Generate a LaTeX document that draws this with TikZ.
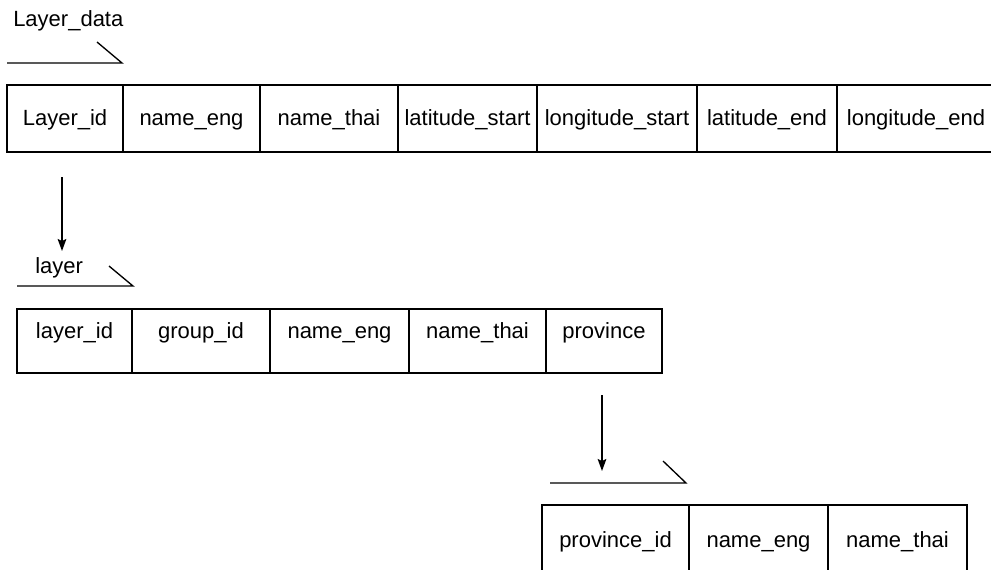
\documentclass[tikz,border=0pt]{standalone}
\usepackage{fontspec}
\setmainfont{Liberation Sans}
\usetikzlibrary{arrows.meta}

\begin{document}
\begin{tikzpicture}[
  x=0.75pt, y=-0.75pt,
  cell/.style={draw, line width=1.3pt, inner sep=0pt, outer sep=0pt, anchor=north west,
    font=\fontsize{16.5pt}{20pt}\selectfont, text height=12pt},
  rowa/.style={cell, minimum height=50.25pt, text depth=2.25pt},
  rowb/.style={cell, minimum height=48pt, text depth=16.5pt},
  rowc/.style={cell, minimum height=67.5pt, text depth=16.5pt},
  tab/.style={line width=1pt},
  title/.style={anchor=base west, inner sep=0pt, font=\fontsize{16.5pt}{20pt}\selectfont},
  flow/.style={line width=1pt, -{Stealth[length=9pt, width=6.5pt, inset=1.5pt]}}
]
\useasboundingbox (0,0) rectangle (991,569);

% ---- Layer_data ----
\node[title] (t1) at (13,26) {Layer\_data};
\coordinate (t1a) at (7,63);
\coordinate (t1b) at (122,63);
\coordinate (t1c) at (97,42);
\draw[tab] (t1a) -- (t1b) -- (t1c);

\node[rowa, minimum width=87pt]     (ld1) at (7,85)        {Layer\_id};
\node[rowa, minimum width=102.75pt] (ld2) at (ld1.north east) {name\_eng};
\node[rowa, minimum width=103.5pt]  (ld3) at (ld2.north east) {name\_thai};
\node[rowa, minimum width=104.25pt] (ld4) at (ld3.north east) {latitude\_start};
\node[rowa, minimum width=120pt]    (ld5) at (ld4.north east) {longitude\_start};
\node[rowa, minimum width=105pt]    (ld6) at (ld5.north east) {latitude\_end};
\node[rowa, minimum width=118.5pt]  (ld7) at (ld6.north east) {longitude\_end};

% ---- link Layer_data -> layer ----
\coordinate (a1s) at (62,177);
\coordinate (a1e) at (62,251);
\draw[flow] (a1s) -- (a1e);

% ---- layer ----
\node[title] (t2) at (35,273) {layer};
\coordinate (t2a) at (17,286);
\coordinate (t2b) at (133,286);
\coordinate (t2c) at (109,266);
\draw[tab] (t2a) -- (t2b) -- (t2c);

\node[rowb, minimum width=86.25pt]  (ly1) at (17,309)        {layer\_id};
\node[rowb, minimum width=103.5pt]  (ly2) at (ly1.north east) {group\_id};
\node[rowb, minimum width=104.25pt] (ly3) at (ly2.north east) {name\_eng};
\node[rowb, minimum width=102.75pt] (ly4) at (ly3.north east) {name\_thai};
\node[rowb, minimum width=87pt]     (ly5) at (ly4.north east) {province};

% ---- link layer -> province ----
\coordinate (a2s) at (602,395);
\coordinate (a2e) at (602,471);
\draw[flow] (a2s) -- (a2e);

% ---- province ----
\coordinate (t3a) at (550,483);
\coordinate (t3b) at (686,483);
\coordinate (t3c) at (663,461);
\draw[tab] (t3a) -- (t3b) -- (t3c);

\node[rowc, minimum width=110.25pt] (pv1) at (542,505)       {province\_id};
\node[rowc, minimum width=104.25pt] (pv2) at (pv1.north east) {name\_eng};
\node[rowc, minimum width=104.25pt] (pv3) at (pv2.north east) {name\_thai};
\end{tikzpicture}
\end{document}
